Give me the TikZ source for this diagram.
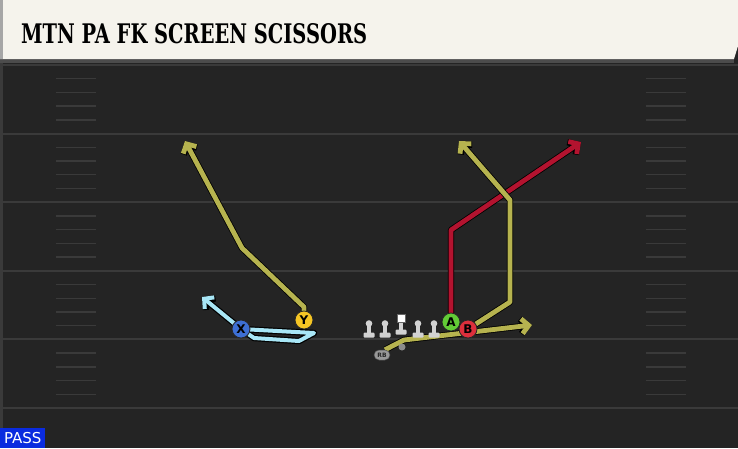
\documentclass[tikz,border=0pt]{standalone}
\usepackage{fontspec}
\usepackage{graphicx}
\newfontfamily\titlefont{DejaVu Serif}
\newfontfamily\labelfont{DejaVu Sans}
\usetikzlibrary{arrows.meta}
\usetikzlibrary{positioning}
\usetikzlibrary{shapes.misc}

\definecolor{field}{HTML}{242424}
\definecolor{yardline}{HTML}{3A3A3A}
\definecolor{cream}{HTML}{F5F3EC}
\definecolor{olive}{HTML}{B6B34F}
\definecolor{crimson}{HTML}{B3132F}
\definecolor{skyblue}{HTML}{A8E6F6}
\definecolor{ycol}{HTML}{F5C524}
\definecolor{xcol}{HTML}{3D6FD4}
\definecolor{acol}{HTML}{62CB36}
\definecolor{bcol}{HTML}{DC2F3C}
\definecolor{passblue}{HTML}{0A2BDF}
\definecolor{linecol}{HTML}{D2D2D2}

\pgfdeclarelayer{turf}
\pgfdeclarelayer{routes}
\pgfsetlayers{turf,routes,main}

\tikzset{
  player/.style={circle, draw=black!85, line width=0.8pt, minimum size=18pt,
    inner sep=0pt, font=\labelfont\bfseries\fontsize{12}{12}\selectfont},
  route/.style={line width=4.8pt, line join=round,
    -{Straight Barb[length=7pt,width=15pt]},
    preaction={draw=black, line width=6.4pt, line join=round}},
  lmbase/.style={rectangle, rounded corners=1pt, fill=linecol, inner sep=0pt,
    minimum width=11pt, minimum height=5pt},
  hashmark/.style={yardline, line width=1.4pt},
}

\begin{document}
\begin{tikzpicture}[x=1pt,y=-1pt]
\useasboundingbox (0,0) rectangle (738,448);
\begin{pgfonlayer}{turf}
\fill[field] (0,0) rectangle (738,448);
\fill[yardline] (0,60) rectangle (2.5,448);
\foreach \y in {65,133.6,202.2,270.8,339.4,408}
  \draw[yardline, line width=2pt] (0,\y) -- (738,\y);
\foreach \y in {65,133.6,202.2,270.8,339.4}
  \foreach \k in {1,2,3,4}
  {
    \draw[hashmark] (56,\y+\k*13.72) -- (96,\y+\k*13.72);
    \draw[hashmark] (646,\y+\k*13.72) -- (686,\y+\k*13.72);
  }
\fill[black!70] (0,59) -- (734,59) -- (734,63) -- (0,63) -- cycle;
\fill[cream] (0,0) -- (738,0) -- (738,46) -- (734,59) -- (0,59) -- cycle;
\fill[black!35] (0,0) rectangle (3,59);
\end{pgfonlayer}

\node[anchor=base west, inner sep=0pt] (title) at (21,43)
  {\resizebox{346pt}{20pt}{\titlefont\bfseries MTN PA FK SCREEN SCISSORS}};

\node[fill=passblue, anchor=south west, minimum width=45pt, minimum height=20pt,
  inner sep=0pt, text=white, font=\labelfont\fontsize{15}{15}\selectfont]
  (pass) at (0,448) {PASS};

% players
\node[player, fill=ycol] (Y) at (304,320) {Y};
\node[player, fill=xcol] (X) at (241,329) {X};
\node[player, fill=acol] (A) at (451,322) {A};
\node[player, fill=bcol] (B) at (468,329) {B};
\node[rounded rectangle, fill=black!40, draw=black!70, line width=0.5pt,
  inner sep=0pt, minimum width=16pt, minimum height=10pt,
  font=\labelfont\bfseries\fontsize{6}{6}\selectfont, text=black!85]
  (RB) at (382,355) {RB};
\node[circle, fill=black!45, inner sep=0pt, minimum size=7pt] (fb) at (402,347) {};

% linemen
\foreach \x/\n in {369/lt,385/lg,418/rg,434/rt}
{
  \node[lmbase] (\n) at (\x,335) {};
  \fill[linecol] (\x-2.3,335) rectangle (\x+2.3,325);
  \fill[linecol] (\x,323.5) circle (3.3pt);
}
\node[lmbase] (c) at (401,332) {};
\fill[linecol] (398.7,332) rectangle (403.3,321);
\node[fill=white, draw=black!60, line width=0.5pt, inner sep=0pt, minimum size=8.5pt] (snap) at (401,318) {};

\coordinate (y1) at (304,307);
\coordinate (y2) at (242,248);
\coordinate (ytip) at (185,141);
\coordinate (x1) at (314,333);
\coordinate (x2) at (299,341);
\coordinate (x3) at (254,338);
\coordinate (xtip) at (202,297);
\coordinate (a1) at (451,230);
\coordinate (atip) at (581,142);
\coordinate (b1) at (510,302);
\coordinate (b2) at (510,200);
\coordinate (btip) at (459,141);
\coordinate (r1) at (404,340);
\coordinate (rtip) at (532,325);

\begin{pgfonlayer}{routes}
\draw[route, olive] (Y.center) -- (y1) -- (y2) -- (ytip);
\draw[route, skyblue, line width=4pt] (X.center) -- (x1) -- (x2) -- (x3) -- (X.center) -- (xtip);
\draw[route, crimson] (A.center) -- (a1) -- (atip);
\draw[route, olive] (RB.north east) -- (r1) -- (rtip);
\draw[route, olive] (B.center) -- (b1) -- (b2) -- (btip);
\end{pgfonlayer}
\end{tikzpicture}
\end{document}
